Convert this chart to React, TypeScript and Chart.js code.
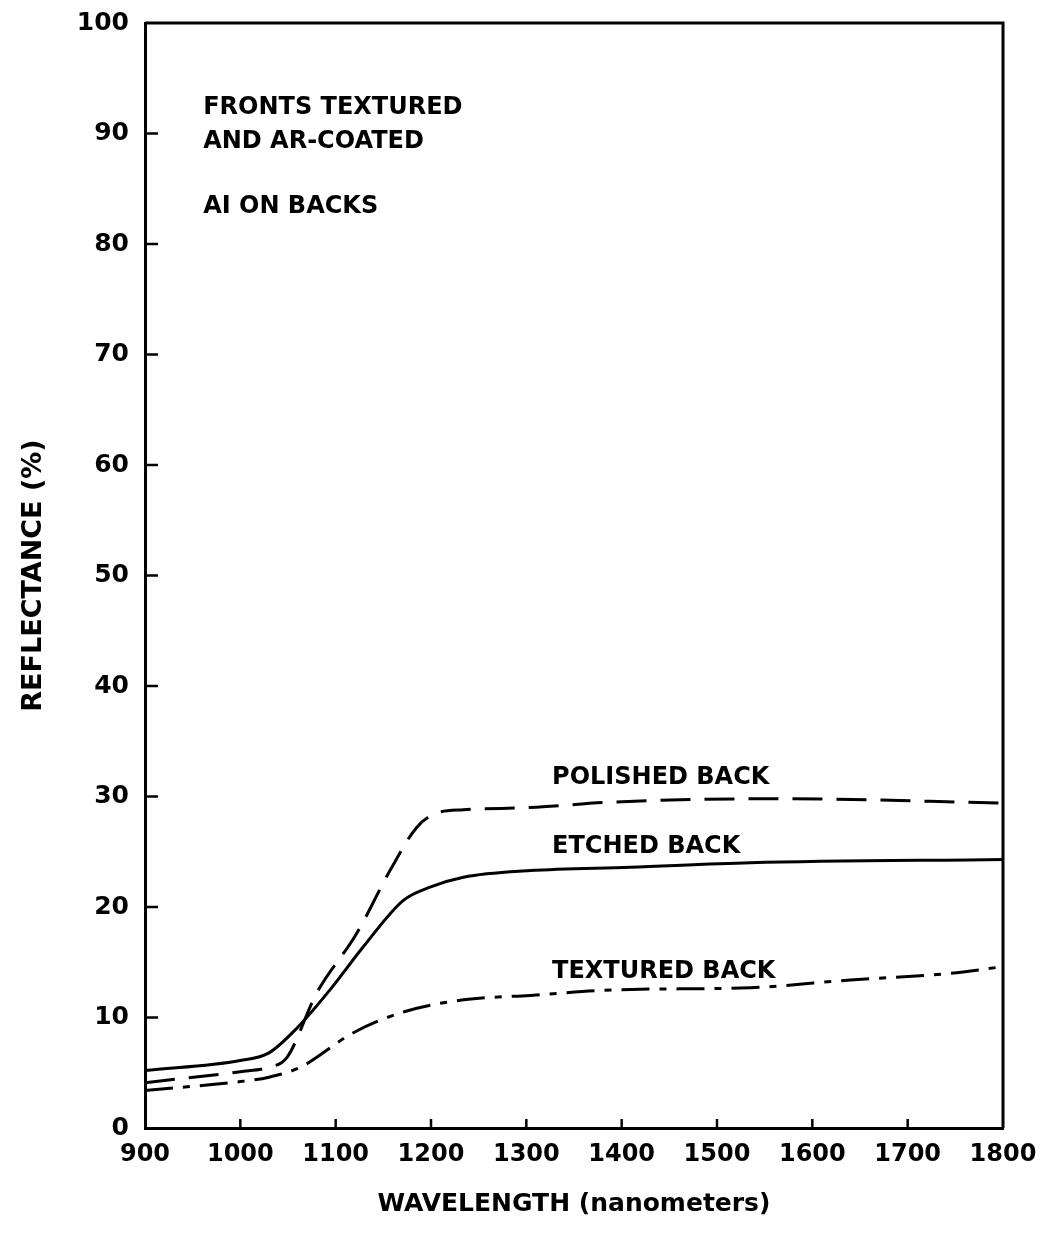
import React, { useEffect, useRef } from "react";
import { Chart, registerables } from "chart.js";

Chart.register(...registerables);

const polishedX = [900, 1000, 1030, 1049, 1080, 1122, 1157, 1185, 1206, 1234, 1304, 1391, 1570, 1800];
const polishedY = [4.1, 5.1, 5.5, 6.4, 12.2, 17.6, 23.3, 27.2, 28.5, 28.8, 29.0, 29.5, 29.8, 29.4];

const etchedX = [900, 1000, 1030, 1060, 1094, 1129, 1171, 1199, 1234, 1304, 1409, 1535, 1800];
const etchedY = [5.2, 6.1, 6.8, 9.1, 12.5, 16.4, 20.6, 21.8, 22.7, 23.3, 23.6, 24.0, 24.3];

const texturedX = [900, 1000, 1030, 1063, 1118, 1171, 1234, 1304, 1391, 1535, 1640, 1745, 1800];
const texturedY = [3.4, 4.2, 4.6, 5.5, 8.6, 10.5, 11.6, 12.0, 12.5, 12.7, 13.4, 14.0, 14.6];

const xTicks = [900, 1000, 1100, 1200, 1300, 1400, 1500, 1600, 1700, 1800];
const yTicks = [0, 10, 20, 30, 40, 50, 60, 70, 80, 90, 100];

const notes = [
  { text: "FRONTS TEXTURED", x: 961, y: 91.8 },
  { text: "AND AR-COATED", x: 961, y: 88.7 },
  { text: "AI ON BACKS", x: 961, y: 82.8 },
  { text: "POLISHED BACK", x: 1327, y: 31.1 },
  { text: "ETCHED BACK", x: 1327, y: 24.9 },
  { text: "TEXTURED BACK", x: 1327, y: 13.6 },
];

const FONT = "'DejaVu Sans', sans-serif";

const toPts = (xs: number[], ys: number[]) => xs.map((x, i) => ({ x, y: ys[i] }));

const decorPlugin = {
  id: "decor",
  afterDraw(chart: any) {
    const { ctx, chartArea } = chart;
    const xs = chart.scales.x;
    const ys = chart.scales.y;
    ctx.save();
    ctx.strokeStyle = "#000";
    ctx.lineWidth = 3;
    ctx.beginPath();
    ctx.moveTo(chartArea.left, chartArea.top);
    ctx.lineTo(chartArea.right, chartArea.top);
    ctx.lineTo(chartArea.right, chartArea.bottom);
    ctx.stroke();
    ctx.lineWidth = 2.5;
    yTicks.forEach((v) => {
      if (v === 0 || v === 100) return;
      const py = ys.getPixelForValue(v);
      ctx.beginPath();
      ctx.moveTo(chartArea.left, py);
      ctx.lineTo(chartArea.left + 13, py);
      ctx.stroke();
    });
    xTicks.forEach((v) => {
      if (v === 900 || v === 1800) return;
      const px = xs.getPixelForValue(v);
      ctx.beginPath();
      ctx.moveTo(px, chartArea.bottom);
      ctx.lineTo(px, chartArea.bottom - 9);
      ctx.stroke();
    });
    ctx.fillStyle = "#000";
    ctx.font = `bold 24px ${FONT}`;
    ctx.textAlign = "left";
    ctx.textBaseline = "alphabetic";
    notes.forEach((n) => {
      ctx.fillText(n.text, xs.getPixelForValue(n.x), ys.getPixelForValue(n.y));
    });
    ctx.restore();
  },
};

export default function App() {
  const ref = useRef<HTMLCanvasElement | null>(null);
  useEffect(() => {
    if (!ref.current) return;
    const chart = new Chart(ref.current, {
      type: "line",
      data: {
        datasets: [
          {
            label: "POLISHED BACK",
            data: toPts(polishedX, polishedY),
            borderColor: "#000",
            borderWidth: 3,
            borderDash: [30, 14],
            pointRadius: 0,
            cubicInterpolationMode: "monotone",
            fill: false,
          },
          {
            label: "ETCHED BACK",
            data: toPts(etchedX, etchedY),
            borderColor: "#000",
            borderWidth: 3,
            pointRadius: 0,
            cubicInterpolationMode: "monotone",
            fill: false,
          },
          {
            label: "TEXTURED BACK",
            data: toPts(texturedX, texturedY),
            borderColor: "#000",
            borderWidth: 3,
            borderDash: [28, 10, 7, 10],
            pointRadius: 0,
            cubicInterpolationMode: "monotone",
            fill: false,
          },
        ],
      },
      options: {
        animation: false,
        responsive: false,
        layout: { padding: { top: 23, right: 46, left: 0, bottom: 0 } },
        plugins: { legend: { display: false }, tooltip: { enabled: false } },
        scales: {
          x: {
            type: "linear",
            min: 900,
            max: 1800,
            afterBuildTicks: (s: any) => {
              s.ticks = xTicks.map((v) => ({ value: v }));
            },
            afterFit: (s: any) => {
              s.height = 116;
              s.paddingLeft = 0;
              s.paddingRight = 0;
            },
            grid: { display: false, drawTicks: false, tickLength: 0 },
            border: { display: true, color: "#000", width: 3 },
            ticks: {
              color: "#000",
              padding: 12,
              maxRotation: 0,
              autoSkip: false,
              font: { family: FONT, size: 24, weight: "bold" },
              callback: (v: any) => String(v),
            },
            title: {
              display: true,
              text: "WAVELENGTH (nanometers)",
              color: "#000",
              font: { family: FONT, size: 25, weight: "bold" },
              padding: { top: 0, bottom: 25 },
            },
          },
          y: {
            type: "linear",
            min: 0,
            max: 100,
            afterBuildTicks: (s: any) => {
              s.ticks = yTicks.map((v) => ({ value: v }));
            },
            afterFit: (s: any) => {
              s.width = 145;
              s.paddingTop = 0;
              s.paddingBottom = 0;
            },
            grid: { display: false, drawTicks: false, tickLength: 0 },
            border: { display: true, color: "#000", width: 3 },
            ticks: {
              color: "#000",
              padding: 16,
              autoSkip: false,
              font: { family: FONT, size: 25, weight: "bold" },
              callback: (v: any) => String(v),
            },
            title: {
              display: true,
              text: "REFLECTANCE (%)",
              color: "#000",
              font: { family: FONT, size: 27, weight: "bold" },
              padding: { top: 18, bottom: 0 },
            },
          },
        },
      },
      plugins: [decorPlugin],
    } as any);
    return () => chart.destroy();
  }, []);
  return (
    <div style={{ position: "absolute", left: 0, top: 0, width: 1049, height: 1244, background: "#fff" }}>
      <canvas ref={ref} width={1049} height={1244} style={{ width: 1049, height: 1244 }} />
    </div>
  );
}
